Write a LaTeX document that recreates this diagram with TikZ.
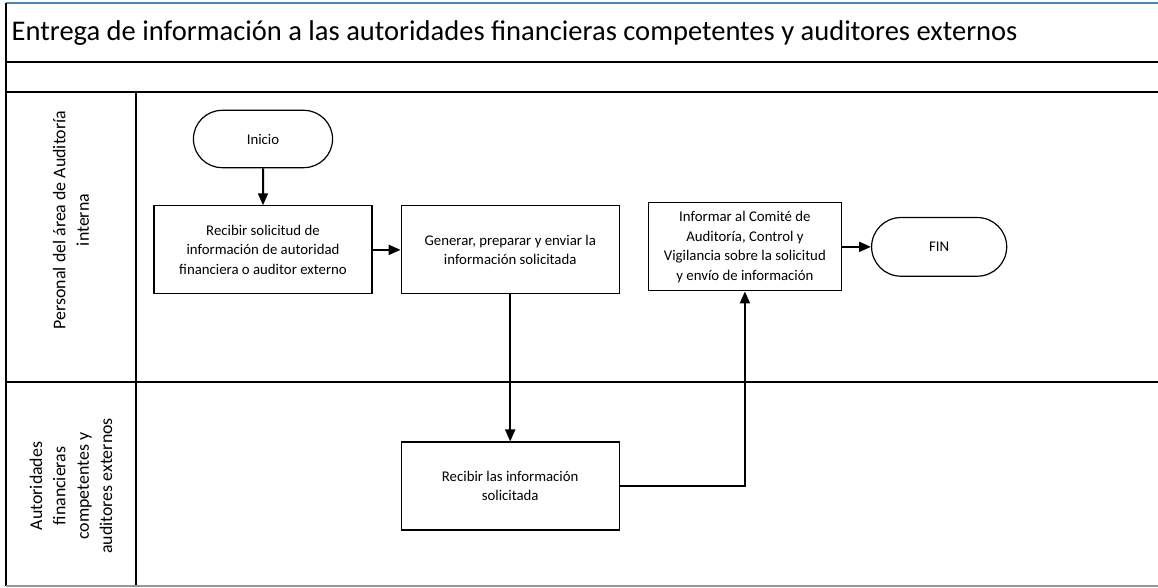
\documentclass[tikz,border=0pt]{standalone}
\usepackage{fontspec}
\setmainfont{Carlito}
\usetikzlibrary{positioning,arrows.meta,shapes.misc}

\definecolor{topbar}{RGB}{79,129,189}
\definecolor{bottombar}{RGB}{150,150,150}

\begin{document}
\begin{tikzpicture}[
				> = {Triangle[length=9pt,width=7.5pt]}, % arrow head style
				x = 0.75pt, y = -0.75pt, % one unit is one pixel of the page
				node distance = 21pt, % distance between boxes
				font = \fontsize{11.1}{14.6}\selectfont
				]
				
				\tikzstyle{task}=[
				draw = black,
				line width = 0.9pt,
				fill = white,
				align = center,
				minimum width = 163.5pt,
				minimum height = 66pt,
				inner sep = 2pt
				]
				\tikzstyle{terminal}=[
				draw = black,
				line width = 0.9pt,
				rounded rectangle,
				minimum width = 111pt,
				minimum height = 43pt
				]
				\tikzstyle{lane}=[
				rotate = 90,
				align = center,
				font = \fontsize{13.4}{17.5}\selectfont
				]
				\tikzstyle{flow}=[->, line width = 1.5pt]
				
				\useasboundingbox (0,0) rectangle (1158,588);
				
				% pool frame
				\draw[topbar, line width = 1pt] (6,3) -- (1158,3);
				\draw[line width = 1pt] (6,3) -- (6,586);
				\draw[line width = 1pt] (6,62) -- (1158,62);
				\draw[line width = 1pt] (6,92) -- (1158,92);
				\draw[line width = 1pt] (6,382) -- (1158,382);
				\draw[line width = 1pt] (136,92) -- (136,586);
				\draw[bottombar, line width = 1pt] (6,586) -- (1158,586);
				
				\node[anchor = west, font = \fontsize{21.4}{25}\selectfont] (title) at (7,33) {Entrega de información a las autoridades financieras competentes y auditores externos};
				
				% lanes
				\node[lane] (auditoria) at (71,220) {Personal del área de Auditoría\\interna};
				\node[lane] (autoridades) at (71,486) {Autoridades\\financieras\\competentes y\\auditores externos};
				
				% steps
				\node[terminal] (inicio) at (263,139) {Inicio};
				\node[task] (recibir) [below = 27.75pt of inicio] {Recibir solicitud de\\información de autoridad\\financiera o auditor externo};
				\node[task] (generar) [right = of recibir] {Generar, preparar y enviar la\\información solicitada};
				\node[task, minimum width = 144.75pt] (informar) [right = of generar, yshift = 2.25pt] {Informar al Comité de\\Auditoría, Control y\\Vigilancia sobre la solicitud\\y envío de información};
				\node[terminal, minimum width = 108pt, minimum height = 44pt] (fin) [right = 21.75pt of informar] {FIN};
				\node[task] (recibirinfo) [below = 110.25pt of generar] {Recibir las información\\solicitada};
				
				\draw[flow] (inicio) -- (recibir);
				\draw[flow] (recibir) -- (generar);
				\draw[flow] (generar) -- (recibirinfo);
				\draw[flow] (recibirinfo) -| (informar);
				\draw[flow] (informar) -- (fin);
			\end{tikzpicture}
\end{document}
